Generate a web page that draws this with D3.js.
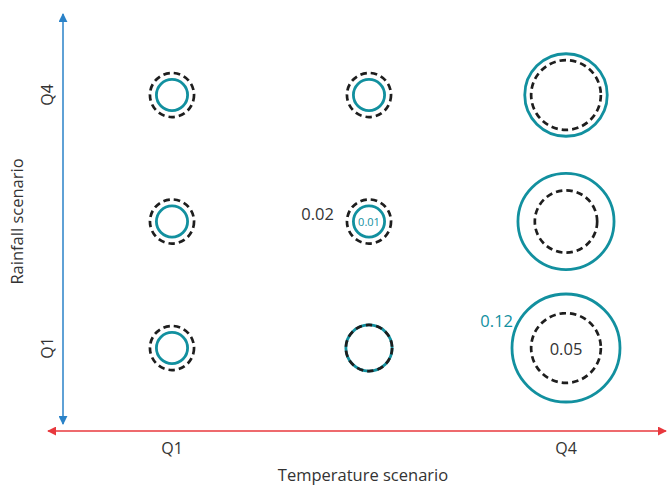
<!DOCTYPE html>
<html>
<head>
<meta charset="utf-8">
<script src="https://cdn.jsdelivr.net/npm/d3@7"></script>
<style>
  html, body { margin: 0; padding: 0; background: #fff; }
  svg { display: block; }
  text { font-family: "Open Sans", sans-serif; fill: #333333; }
</style>
</head>
<body>
<svg id="chart" width="667" height="485"></svg>
<script>
// ---- data ----
const tempCategories = ["Q1", "Q2", "Q4"];
const rainCategories = ["Q1", "Q2", "Q4"];
const tempTickLabels = ["Q1", "", "Q4"];
const rainTickLabels = ["Q1", "", "Q4"];
// cells: [temperature, rainfall]
const cellTemp = ["Q1", "Q1", "Q1", "Q2", "Q2", "Q2", "Q4", "Q4", "Q4"];
const cellRain = ["Q4", "Q2", "Q1", "Q4", "Q2", "Q1", "Q4", "Q2", "Q1"];
const solidValues  = [0.01, 0.01, 0.01, 0.01, 0.01, 0.022, 0.07, 0.095, 0.12];
const dashedValues = [0.02, 0.02, 0.02, 0.02, 0.02, 0.022, 0.05, 0.04, 0.05];
const xAxisTitle = "Temperature scenario";
const yAxisTitle = "Rainfall scenario";

const teal = "#12909f";
const dark = "#1e1e1e";

const svg = d3.select("#chart");

const x = d3.scalePoint().domain(tempCategories).range([172, 566]);
const y = d3.scalePoint().domain(rainCategories).range([348, 95]);
const r = d3.scaleSqrt().domain([0, 0.12]).range([0, 54]);

const cells = cellTemp.map((t, i) => ({ t, rn: cellRain[i], s: solidValues[i], d: dashedValues[i] }));

// ---- axes ----
const defs = svg.append("defs");
function marker(id, color) {
  defs.append("marker")
    .attr("id", id)
    .attr("viewBox", "0 0 10 10")
    .attr("refX", 9).attr("refY", 5)
    .attr("markerWidth", 9).attr("markerHeight", 9)
    .attr("markerUnits", "userSpaceOnUse")
    .attr("orient", "auto-start-reverse")
    .append("path").attr("d", "M0,0 L10,5 L0,10 Z").attr("fill", color);
}
marker("arrBlue", "#2a82c8");
marker("arrRed", "#e8383d");

const axisY = 431, axisX = 63;
svg.append("line")
  .attr("x1", axisX).attr("x2", axisX).attr("y1", 424).attr("y2", 14)
  .attr("stroke", "#2a82c8").attr("stroke-width", 1.5)
  .attr("marker-start", "url(#arrBlue)").attr("marker-end", "url(#arrBlue)");
svg.append("line")
  .attr("x1", 48).attr("x2", 666).attr("y1", axisY).attr("y2", axisY)
  .attr("stroke", "#e8383d").attr("stroke-width", 1.5)
  .attr("marker-start", "url(#arrRed)").attr("marker-end", "url(#arrRed)");

// tick labels
svg.selectAll(".xt").data(tempCategories).enter().append("text")
  .attr("x", d => x(d)).attr("y", 454)
  .attr("text-anchor", "middle").attr("font-size", 16)
  .text((d, i) => tempTickLabels[i]);
svg.selectAll(".yt").data(rainCategories).enter().append("text")
  .attr("transform", d => `translate(53,${y(d)}) rotate(-90)`)
  .attr("text-anchor", "middle").attr("font-size", 16)
  .text((d, i) => rainTickLabels[i]);

svg.append("text").attr("x", 363).attr("y", 481)
  .attr("text-anchor", "middle").attr("font-size", 16.5).text(xAxisTitle);
svg.append("text").attr("transform", `translate(23,${y("Q2")}) rotate(-90)`)
  .attr("text-anchor", "middle").attr("font-size", 16.5).text(yAxisTitle);

// ---- circles ----
svg.selectAll(".solid").data(cells).enter().append("circle")
  .attr("cx", d => x(d.t)).attr("cy", d => y(d.rn)).attr("r", d => r(d.s))
  .attr("fill", "none").attr("stroke", teal).attr("stroke-width", 2.8);
svg.selectAll(".dash").data(cells).enter().append("circle")
  .attr("cx", d => x(d.t)).attr("cy", d => y(d.rn)).attr("r", d => r(d.d))
  .attr("fill", "none").attr("stroke", dark).attr("stroke-width", 2.7)
  .attr("stroke-dasharray", "6.5,4");

// ---- value labels ----
const mid = cells[4];
svg.append("text")
  .attr("x", x(mid.t) - r(mid.d) - 13).attr("y", y(mid.rn) - 2)
  .attr("text-anchor", "end").attr("font-size", 16.5).text(d3.format(".2f")(mid.d));
svg.append("text")
  .attr("x", x(mid.t)).attr("y", y(mid.rn) + 4.5)
  .attr("text-anchor", "middle").attr("font-size", 11).style("fill", teal)
  .text(d3.format(".2f")(mid.s));
const big = cells[8];
svg.append("text")
  .attr("x", x(big.t) - r(big.s) + 1).attr("y", y(big.rn) - 21)
  .attr("text-anchor", "end").attr("font-size", 16.5).style("fill", teal)
  .text(d3.format(".2f")(big.s));
svg.append("text")
  .attr("x", x(big.t)).attr("y", y(big.rn) + 7)
  .attr("text-anchor", "middle").attr("font-size", 16.5)
  .text(d3.format(".2f")(big.d));
</script>
</body>
</html>
